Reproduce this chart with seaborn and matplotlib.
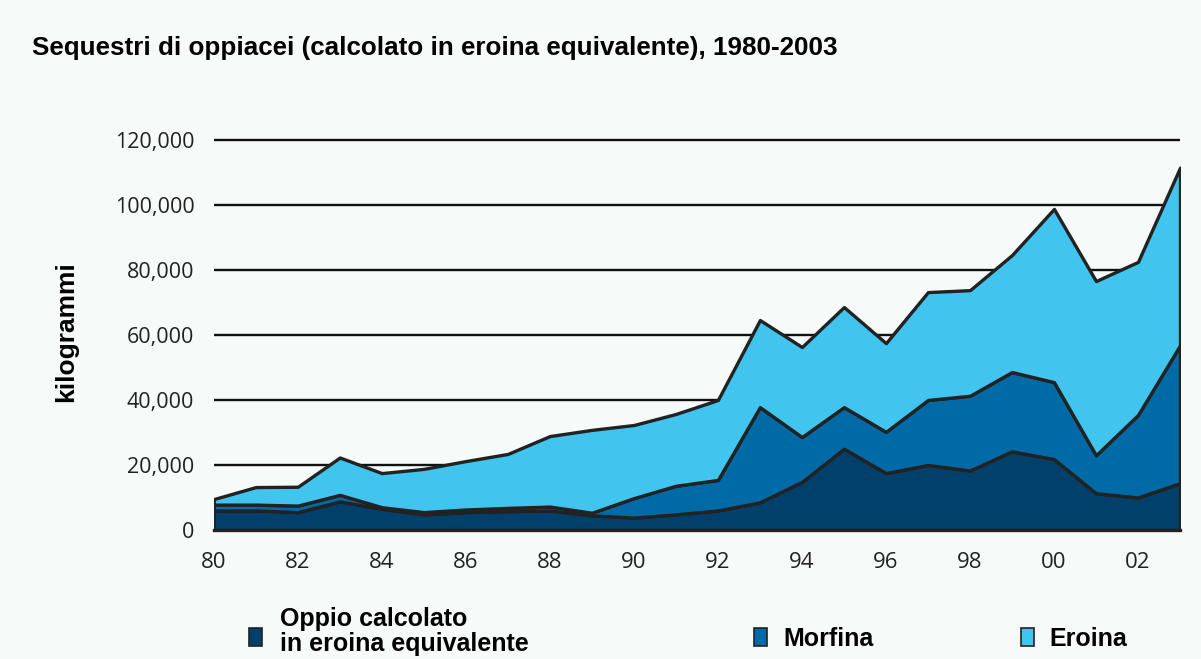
import numpy as np
import pandas as pd
import matplotlib
matplotlib.use("Agg")
import matplotlib.pyplot as plt
import seaborn as sns
from matplotlib.patches import Rectangle

# data (kg, heroin equivalent)
years = list(range(1980, 2004))
oppio = [6000, 6000, 5500, 8800, 6500, 4800, 5500, 5800, 6000, 4500, 3800, 4800,
         6000, 8500, 14800, 25000, 17500, 20000, 18300, 24200, 21800, 11300, 10000, 14400]
morfina = [1800, 1800, 2000, 2000, 500, 700, 800, 1000, 1200, 800, 6000, 8800,
           9400, 29300, 13800, 12800, 12700, 20000, 23000, 24400, 23700, 11700, 25400, 42400]
eroina = [1700, 5400, 5800, 11500, 10500, 13300, 14900, 16600, 21700, 25500, 22500, 22100,
          24600, 26800, 27700, 30800, 27300, 33200, 32500, 36000, 53300, 53600, 47100, 54700]
labels = ["Oppio calcolato\nin eroina equivalente", "Morfina", "Eroina"]
colors = ["#00406a", "#006aa6", "#41c4ee"]
xticks = list(range(1980, 2004, 2))
xticklabels = ["80", "82", "84", "86", "88", "90", "92", "94", "96", "98", "00", "02"]
yticks = [0, 20000, 40000, 60000, 80000, 100000, 120000]

df = pd.DataFrame({"anno": years, "oppio": oppio, "morfina": morfina, "eroina": eroina})

sns.set_theme(style="white")
plt.rcParams["font.family"] = ["Liberation Sans", "DejaVu Sans"]
bg = "#f6faf8"

fig = plt.figure(figsize=(12.01, 6.59), dpi=100, facecolor=bg)
ax = fig.add_axes([0.178, 0.1958, 0.8045, 0.6016])
ax.set_facecolor(bg)

for y in yticks[1:]:
    ax.axhline(y, color="#111111", lw=1.7, zorder=0)

ax.stackplot(df["anno"], df["oppio"], df["morfina"], df["eroina"],
             colors=colors, edgecolor="#222222", linewidth=2.4, zorder=2)

ax.set_xlim(1980, 2003)
ax.set_ylim(0, 122000)
ax.set_xticks(xticks)
ax.set_xticklabels(xticklabels, family="Open Sans", fontsize=16, color="#222222")
ax.set_yticks(yticks)
ax.set_yticklabels([f"{v:,}" for v in yticks], family="Open Sans", fontsize=15.5, color="#222222")
ax.tick_params(axis="x", length=0, pad=16)
ax.tick_params(axis="y", length=0, pad=14)

for s in ["top", "left", "right"]:
    ax.spines[s].set_visible(False)
ax.spines["bottom"].set_color("#222222")
ax.spines["bottom"].set_linewidth(2.4)

ax.set_ylabel("kilogrammi", fontsize=19, fontweight="bold", color="black")
ax.yaxis.set_label_coords(-0.14, 0.5)

fig.text(0.027, 0.927, "Sequestri di oppiacei (calcolato in eroina equivalente), 1980-2003",
         fontsize=18.7, fontweight="bold", color="black", va="center")

# legend
leg_x = [0.207, 0.628, 0.850]
leg_y = 0.019
for lx, lab, c in zip(leg_x, labels, colors):
    fig.patches.append(Rectangle((lx, leg_y), 0.011, 0.028, transform=fig.transFigure,
                                 facecolor=c, edgecolor="#222222", lw=1.2))
    if "\n" in lab:
        fig.text(lx + 0.026, leg_y - 0.014, lab, fontsize=18, fontweight="bold",
                 color="black", va="bottom", linespacing=1.05)
    else:
        fig.text(lx + 0.024, leg_y + 0.012, lab, fontsize=18, fontweight="bold",
                 color="black", va="center")

fig.savefig("out.png", dpi=100, facecolor=bg)
